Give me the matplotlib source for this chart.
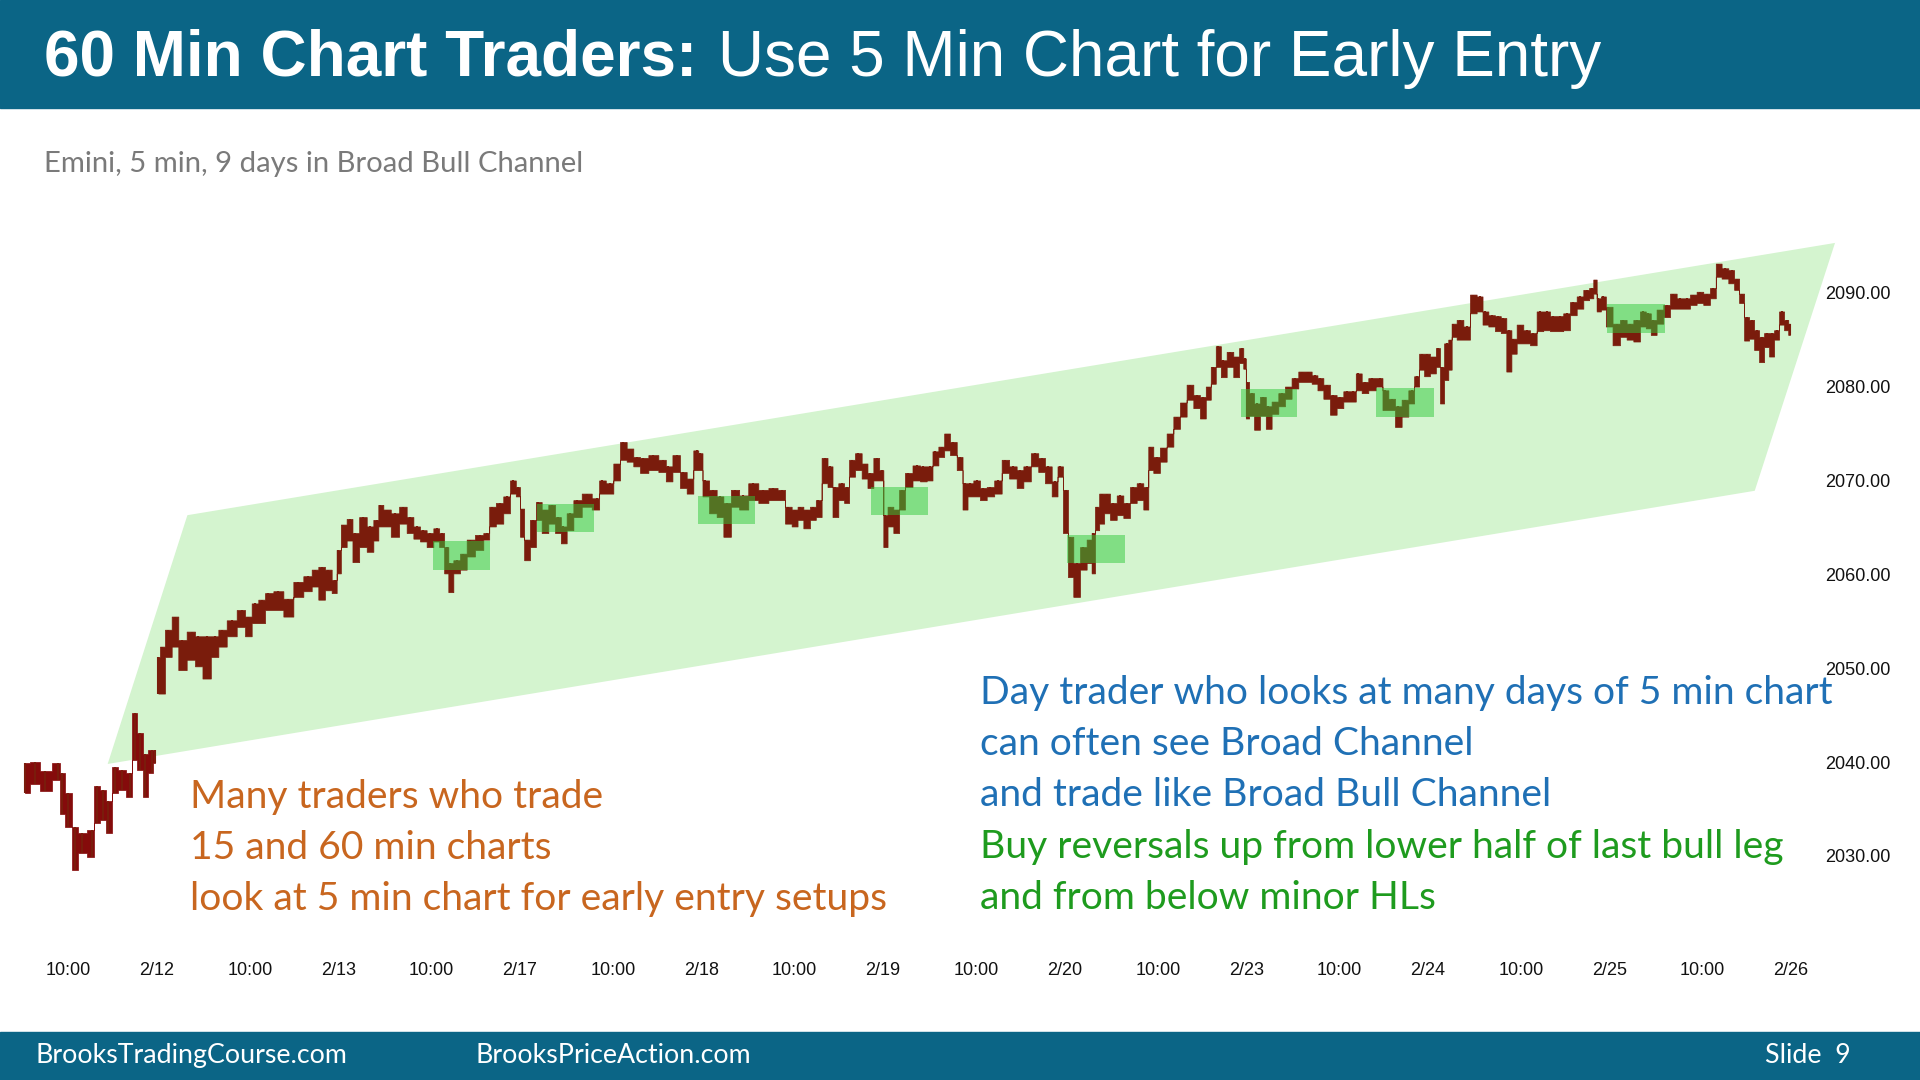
import matplotlib
matplotlib.use("Agg")
import matplotlib.pyplot as plt
from matplotlib.patches import Polygon, Rectangle

# x position in trading days (2/12 open = 1.0), bar highs and lows
bar_x = [
    0.275, 0.330, 0.385, 0.458, 0.477, 0.513, 0.550, 0.587, 0.642, 0.669, 0.706, 0.734, 0.770, 0.807, 0.853, 0.880, 0.908, 0.936, 0.972, 0.991,
    1.009, 1.027, 1.064, 1.101, 1.137, 1.193, 1.229, 1.275, 1.321, 1.358, 1.413, 1.468, 1.505, 1.541, 1.578, 1.615, 1.670, 1.725, 1.780, 1.835, 1.872, 1.908, 1.945, 1.982,
    2.000, 2.028, 2.064, 2.092, 2.138, 2.175, 2.211, 2.230, 2.266, 2.312, 2.358, 2.395, 2.432, 2.468, 2.505, 2.542, 2.569, 2.597, 2.615, 2.652, 2.689, 2.725, 2.780, 2.817, 2.845, 2.890, 2.927, 2.964, 2.991,
    3.010, 3.037, 3.074, 3.102, 3.138, 3.175, 3.212, 3.239, 3.276, 3.313, 3.368, 3.423, 3.450, 3.496, 3.533, 3.570, 3.606, 3.643, 3.680, 3.735, 3.790, 3.817, 3.863, 3.900, 3.937, 3.973, 3.992,
    4.019, 4.065, 4.102, 4.139, 4.185, 4.230, 4.285, 4.341, 4.396, 4.442, 4.478, 4.515, 4.543, 4.579, 4.616, 4.643, 4.680, 4.708, 4.735, 4.772, 4.799, 4.827, 4.864, 4.900, 4.928, 4.965, 4.992,
    5.011, 5.038, 5.075, 5.102, 5.139, 5.185, 5.222, 5.258, 5.286, 5.323, 5.350, 5.387, 5.424, 5.451, 5.479, 5.515, 5.552, 5.589, 5.635, 5.671, 5.717, 5.754, 5.791, 5.836, 5.873, 5.910, 5.947, 5.974,
    6.007, 6.029, 6.066, 6.103, 6.139, 6.158, 6.176, 6.204, 6.231, 6.268, 6.305, 6.341, 6.378, 6.415, 6.451, 6.470, 6.506, 6.543, 6.580, 6.617, 6.653, 6.690, 6.727, 6.763, 6.791, 6.818, 6.846, 6.874, 6.910, 6.947, 6.974, 6.993,
    7.002, 7.029, 7.057, 7.094, 7.121, 7.158, 7.195, 7.231, 7.268, 7.305, 7.342, 7.378, 7.406, 7.443, 7.479, 7.516, 7.553, 7.589, 7.617, 7.654, 7.690, 7.736, 7.764, 7.801, 7.837, 7.874, 7.911, 7.938, 7.966, 7.993,
    8.030, 8.058, 8.076, 8.103, 8.122, 8.140, 8.177, 8.214, 8.250, 8.287, 8.315, 8.351, 8.388, 8.415, 8.449, 8.471, 8.507, 8.544, 8.581, 8.617, 8.654, 8.691, 8.727, 8.764, 8.801, 8.838, 8.874, 8.902, 8.920, 8.939, 8.966, 8.994,
    9.040, 9.076, 9.113, 9.150, 9.186, 9.214, 9.241, 9.278, 9.315, 9.352, 9.388, 9.425, 9.462, 9.498, 9.535, 9.572, 9.599, 9.636, 9.673, 9.700, 9.728, 9.755, 9.783, 9.810, 9.838, 9.865, 9.893, 9.920, 9.948, 9.975, 9.994,
]
bar_high = [
    2039.9, 2040.0, 2039.0, 2039.9, 2038.8, 2036.7, 2033.1, 2032.4, 2032.8, 2037.4, 2037.0, 2035.9, 2039.5, 2039.2, 2038.8, 2045.2, 2043.1, 2040.9, 2041.3, 2041.3,
    2051.2, 2052.3, 2054.1, 2055.5, 2053.0, 2053.9, 2053.4, 2053.4, 2053.4, 2054.1, 2055.1, 2056.2, 2055.5, 2056.9, 2057.3, 2058.0, 2058.2, 2057.4, 2059.2, 2059.8, 2060.5, 2060.8, 2060.5, 2059.4,
    2062.6, 2065.3, 2065.9, 2064.4, 2066.1, 2065.1, 2065.8, 2067.4, 2066.9, 2066.5, 2067.2, 2066.1, 2065.1, 2064.7, 2064.4, 2064.9, 2064.4, 2062.9, 2061.2, 2061.5, 2062.2, 2063.7, 2064.2, 2064.4, 2067.2, 2067.6, 2068.3, 2070.0, 2069.3,
    2067.0, 2063.7, 2065.8, 2067.7, 2066.9, 2067.4, 2066.1, 2065.1, 2066.5, 2067.9, 2068.6, 2068.1, 2070.0, 2069.7, 2071.8, 2074.1, 2073.4, 2072.5, 2072.4, 2072.7, 2072.2, 2071.5, 2072.7, 2070.9, 2070.2, 2073.2, 2072.9,
    2070.0, 2069.0, 2068.3, 2067.6, 2069.0, 2068.4, 2069.7, 2069.0, 2069.2, 2069.0, 2067.2, 2066.9, 2067.2, 2066.9, 2067.2, 2067.9, 2072.4, 2071.5, 2069.3, 2069.7, 2069.3, 2072.2, 2072.9, 2071.8, 2070.8, 2072.4, 2071.1,
    2066.3, 2067.2, 2066.9, 2069.0, 2070.8, 2071.6, 2071.5, 2071.5, 2073.1, 2073.6, 2075.0, 2074.1, 2072.5, 2069.7, 2069.7, 2070.0, 2069.2, 2069.3, 2070.0, 2072.2, 2071.5, 2071.1, 2071.5, 2072.9, 2072.4, 2071.5, 2069.9, 2071.5,
    2069.0, 2064.0, 2061.2, 2062.9, 2063.7, 2064.4, 2067.2, 2068.6, 2068.6, 2067.6, 2068.4, 2067.6, 2069.3, 2069.7, 2069.3, 2073.6, 2072.5, 2073.5, 2075.0, 2076.8, 2078.3, 2080.2, 2079.1, 2078.9, 2080.0, 2082.1, 2084.3, 2082.8, 2083.7, 2083.2, 2084.1, 2083.0,
    2080.5, 2079.3, 2078.2, 2078.9, 2077.9, 2078.4, 2079.3, 2080.0, 2080.9, 2081.6, 2081.6, 2081.2, 2080.9, 2080.2, 2079.1, 2078.9, 2079.5, 2079.5, 2081.4, 2080.5, 2080.9, 2080.9, 2079.6, 2078.7, 2077.9, 2078.6, 2079.6, 2081.1, 2083.5, 2083.5,
    2083.2, 2084.1, 2082.1, 2084.6, 2085.0, 2086.7, 2087.1, 2086.4, 2089.8, 2089.6, 2088.0, 2087.6, 2087.5, 2087.3, 2086.0, 2085.1, 2086.6, 2086.0, 2085.7, 2088.0, 2088.0, 2087.5, 2087.5, 2087.8, 2089.0, 2089.6, 2090.3, 2090.5, 2091.4, 2089.4, 2089.6, 2088.5,
    2086.7, 2087.1, 2086.7, 2087.1, 2088.0, 2087.8, 2087.1, 2088.2, 2088.7, 2089.9, 2089.4, 2089.4, 2089.8, 2090.1, 2089.9, 2090.5, 2093.1, 2092.6, 2092.4, 2091.5, 2089.9, 2087.4, 2087.1, 2086.0, 2085.3, 2085.7, 2085.7, 2086.0, 2088.0, 2087.1, 2086.7,
]
bar_low = [
    2036.7, 2037.7, 2036.9, 2038.1, 2034.5, 2033.1, 2028.5, 2030.3, 2029.9, 2033.5, 2033.8, 2032.4, 2036.7, 2037.0, 2036.3, 2040.2, 2039.2, 2036.3, 2038.8, 2039.9,
    2047.3, 2047.3, 2051.2, 2052.3, 2049.8, 2050.9, 2050.2, 2048.9, 2051.2, 2052.3, 2053.4, 2054.4, 2053.4, 2054.8, 2054.8, 2056.2, 2056.2, 2055.5, 2057.6, 2058.2, 2058.7, 2057.3, 2058.3, 2058.0,
    2060.1, 2062.9, 2063.6, 2061.3, 2062.9, 2062.4, 2063.6, 2065.1, 2065.1, 2064.0, 2065.4, 2064.4, 2063.8, 2063.5, 2062.9, 2063.5, 2062.9, 2060.1, 2058.1, 2060.1, 2060.5, 2061.9, 2062.6, 2063.7, 2065.1, 2065.4, 2066.5, 2068.6, 2068.3,
    2064.0, 2061.5, 2062.9, 2065.8, 2064.4, 2065.4, 2064.4, 2063.3, 2064.7, 2066.1, 2067.2, 2066.9, 2068.6, 2068.6, 2070.0, 2072.2, 2072.0, 2071.5, 2070.8, 2071.1, 2070.9, 2069.9, 2070.9, 2069.2, 2068.6, 2071.1, 2071.1,
    2068.3, 2066.5, 2066.1, 2064.0, 2067.2, 2066.9, 2067.9, 2067.6, 2067.9, 2067.9, 2065.4, 2065.1, 2065.8, 2064.9, 2065.8, 2066.1, 2069.7, 2069.3, 2066.1, 2067.9, 2067.6, 2070.4, 2071.1, 2070.2, 2069.2, 2070.0, 2070.0,
    2062.9, 2065.1, 2064.4, 2066.9, 2069.3, 2070.0, 2069.9, 2070.0, 2071.6, 2072.5, 2073.2, 2072.7, 2071.1, 2066.9, 2068.3, 2068.3, 2067.9, 2068.3, 2068.6, 2070.8, 2070.2, 2069.2, 2069.9, 2071.5, 2070.9, 2069.7, 2068.3, 2070.4,
    2064.4, 2059.7, 2057.6, 2060.5, 2061.2, 2060.1, 2064.7, 2065.4, 2066.5, 2065.8, 2066.3, 2066.0, 2067.6, 2067.9, 2066.9, 2071.1, 2070.8, 2072.0, 2073.6, 2075.5, 2076.8, 2078.6, 2077.7, 2076.6, 2078.6, 2080.3, 2082.1, 2081.0, 2082.1, 2081.0, 2082.5, 2081.9,
    2076.6, 2076.9, 2075.4, 2076.9, 2075.5, 2077.1, 2077.9, 2078.7, 2079.8, 2080.5, 2080.5, 2080.3, 2079.6, 2078.7, 2077.0, 2077.7, 2078.4, 2078.4, 2079.6, 2079.3, 2079.6, 2080.0, 2077.5, 2077.5, 2075.7, 2076.8, 2078.2, 2080.0, 2081.8, 2081.1,
    2081.4, 2082.1, 2078.2, 2080.7, 2081.8, 2085.3, 2085.0, 2085.0, 2087.8, 2088.0, 2086.6, 2086.4, 2085.9, 2085.7, 2081.6, 2083.5, 2084.6, 2084.6, 2084.4, 2085.9, 2086.0, 2085.9, 2085.9, 2086.0, 2087.6, 2088.3, 2089.2, 2089.4, 2089.9, 2088.0, 2088.2, 2086.4,
    2084.4, 2085.3, 2085.0, 2084.8, 2086.4, 2086.2, 2085.5, 2086.7, 2087.4, 2088.3, 2088.3, 2088.3, 2088.7, 2088.9, 2088.7, 2089.4, 2091.7, 2091.5, 2091.0, 2090.3, 2088.9, 2084.9, 2085.1, 2083.9, 2082.6, 2084.2, 2083.2, 2085.0, 2086.6, 2086.0, 2085.5,
]

# broad bull channel corners (day, price)
channel_x = [1.169, 10.242, 9.800, 0.730]
channel_y = [2066.3, 2095.3, 2068.9, 2039.8]

# highlighted buy zones: start day, end day, bottom price, top price
zone_x0 = [2.524, 3.096, 3.983, 4.933, 6.015, 6.971, 7.714, 8.988]
zone_x1 = [2.834, 3.410, 4.295, 5.245, 6.332, 7.281, 8.034, 9.306]
zone_lo = [2060.5, 2064.5, 2065.4, 2066.3, 2061.2, 2076.8, 2076.8, 2085.7]
zone_hi = [2063.5, 2067.5, 2068.3, 2069.3, 2064.2, 2079.7, 2079.8, 2088.8]

day_labels = ["2/12", "2/13", "2/17", "2/18", "2/19", "2/20", "2/23", "2/24", "2/25", "2/26"]
price_ticks = [2030, 2040, 2050, 2060, 2070, 2080, 2090]

orange_lines = ["Many traders who trade", "15 and 60 min charts", "look at 5 min chart for early entry setups"]
blue_lines = ["Day trader who looks at many days of 5 min chart", "can often see Broad Channel", "and trade like Broad Bull Channel"]
green_lines = ["Buy reversals up from lower half of last bull leg", "and from below minor HLs"]

W, H = 1920, 1080
teal = "#0b6586"
body_font = ["Lato", "DejaVu Sans"]

fig = plt.figure(figsize=(W / 100, H / 100), dpi=100)
renderer = fig.canvas.get_renderer()


def fx(px):
    return px / W


def fy(px):
    return 1 - px / H


def fit(t, width_px):
    bb = t.get_window_extent(renderer)
    t.set_fontsize(t.get_fontsize() * width_px / bb.width)
    return t.get_fontsize()


# header and footer bars
fig.patches.append(Rectangle((0, fy(108)), 1, 108 / H, transform=fig.transFigure, color=teal, zorder=0))
fig.patches.append(Rectangle((0, 0), 1, 48 / H, transform=fig.transFigure, color=teal, zorder=0))

fig.text(fx(44), fy(76), "60 Min Chart Traders:", color="white", fontsize=46,
         family="Liberation Sans", weight="bold", va="baseline")
fig.text(fx(718), fy(76), "Use 5 Min Chart for Early Entry", color="white", fontsize=46,
         family="Liberation Sans", va="baseline")

sub = fig.text(fx(44), fy(172), "Emini, 5 min, 9 days in Broad Bull Channel", color="#7a7a7a",
               fontsize=20, family=body_font, va="baseline")
fit(sub, 541)

foot = fig.text(fx(36), fy(1063), "BrooksTradingCourse.com", color="white", fontsize=18,
                family=body_font, va="baseline")
fs_foot = fit(foot, 311)
fig.text(fx(475), fy(1063), "BrooksPriceAction.com", color="white", fontsize=fs_foot,
         family=body_font, va="baseline")
fig.text(fx(1851), fy(1063), "Slide  9", color="white", fontsize=fs_foot,
         family=body_font, va="baseline", ha="right")

# chart
ax = fig.add_axes([fx(18.4), fy(949), fx(1818.3) - fx(18.4), (949 - 208.2) / H])
ax.set_xlim(0.2384, 10.150)
ax.set_ylim(2020.09, 2099.0)
ax.patch.set_alpha(0)
for s in ax.spines.values():
    s.set_visible(False)

ax.add_patch(Polygon(list(zip(channel_x, channel_y)), closed=True, facecolor="#d4f4cf",
                     edgecolor="none", zorder=1, clip_on=False))

# price bars as a stepped high-low band; first (partial) day a little redder
n0 = 20
ax.fill_between(bar_x[:n0], bar_low[:n0], bar_high[:n0], step="mid", facecolor="#850b0b",
                edgecolor="#850b0b", linewidth=0.5, zorder=2)
ax.fill_between(bar_x[n0:], bar_low[n0:], bar_high[n0:], step="mid", facecolor="#7a1c0c",
                edgecolor="#7a1c0c", linewidth=0.5, zorder=2)
ax.vlines(bar_x, bar_low, bar_high, color="#7a1c0c", linewidth=1.5, zorder=2)

for x0, x1, lo, hi in zip(zone_x0, zone_x1, zone_lo, zone_hi):
    ax.add_patch(Rectangle((x0, lo), x1 - x0, hi - lo, facecolor="#2fca3a", alpha=0.5,
                           edgecolor="none", zorder=3))

tick_pos = []
tick_lab = []
for i, lab in enumerate(day_labels):
    tick_pos += [i + 0.513, i + 1]
    tick_lab += ["10:00", lab]
ax.set_xticks(tick_pos)
ax.set_xticklabels(tick_lab, family="Liberation Sans", fontsize=13, color="#111111")
ax.set_yticks(price_ticks)
ax.set_yticklabels([f"{p:.2f}" for p in price_ticks], family="Liberation Sans", fontsize=13, color="#111111")
ax.yaxis.tick_right()
ax.tick_params(axis="both", length=0)
ax.tick_params(axis="x", pad=9.5)
ax.tick_params(axis="y", pad=5)

# commentary
t = fig.text(fx(980), fy(704), blue_lines[0], color="#1f70b5", fontsize=30, family=body_font, va="baseline")
fs = fit(t, 853)
for i, line in enumerate(blue_lines[1:]):
    fig.text(fx(980), fy(755 + 51 * i), line, color="#1f70b5", fontsize=fs, family=body_font, va="baseline")
for i, line in enumerate(green_lines):
    fig.text(fx(980), fy(858 + 51 * i), line, color="#1e9b1e", fontsize=fs, family=body_font, va="baseline")
for i, line in enumerate(orange_lines):
    fig.text(fx(190), fy(808 + 51 * i), line, color="#c8661f", fontsize=fs, family=body_font, va="baseline")

fig.savefig("out.png", dpi=100)
